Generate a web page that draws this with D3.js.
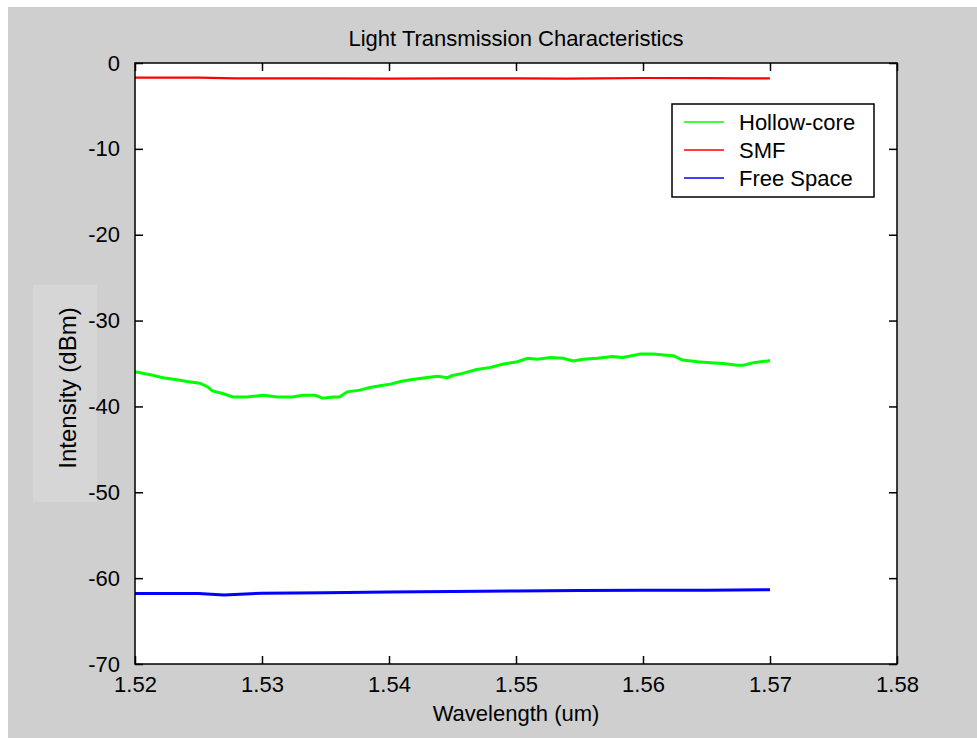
<!DOCTYPE html>
<html>
<head>
<meta charset="utf-8">
<script src="https://cdn.jsdelivr.net/npm/d3@7"></script>
<style>
  html, body { margin: 0; padding: 0; background: #ffffff; }
  svg { display: block; }
  text { font-family: "Liberation Sans", Arial, Helvetica, sans-serif; fill: #000; }
</style>
</head>
<body>
<svg id="chart" width="977" height="738"></svg>
<script>
// Wavelength sweep (um) and measured intensity (dBm) for each fibre path
const hollowWl = [1.5200, 1.5212, 1.5222, 1.5233, 1.5241, 1.5251, 1.5257, 1.5261, 1.5269, 1.5277,
  1.5288, 1.5301, 1.5312, 1.5324, 1.5332, 1.5342, 1.5348, 1.5356, 1.5361, 1.5367,
  1.5377, 1.5385, 1.5393, 1.5401, 1.5409, 1.5417, 1.5427, 1.5438, 1.5446, 1.5450,
  1.5458, 1.5469, 1.5480, 1.5490, 1.5501, 1.5509, 1.5517, 1.5527, 1.5537, 1.5545,
  1.5553, 1.5564, 1.5576, 1.5584, 1.5598, 1.5608, 1.5616, 1.5624, 1.5631, 1.5643,
  1.5653, 1.5663, 1.5674, 1.5679, 1.5687, 1.5698, 1.5700];
const hollowDb = [-35.95, -36.3, -36.65, -36.9, -37.1, -37.3, -37.7, -38.2, -38.5, -38.9,
  -38.9, -38.7, -38.9, -38.9, -38.7, -38.7, -39.05, -38.9, -38.9, -38.3,
  -38.1, -37.8, -37.6, -37.4, -37.1, -36.9, -36.7, -36.5, -36.65, -36.4,
  -36.15, -35.7, -35.45, -35.05, -34.8, -34.4, -34.5, -34.3, -34.4, -34.7,
  -34.5, -34.4, -34.2, -34.3, -33.9, -33.9, -34.0, -34.1, -34.6, -34.8,
  -34.9, -35.0, -35.2, -35.2, -34.9, -34.7, -34.65];

const smfWl = [1.5200, 1.5250, 1.5279, 1.5300, 1.5340, 1.5400, 1.5450, 1.5500, 1.5540, 1.5565,
  1.5600, 1.5650, 1.5680, 1.5700];
const smfDb = [-1.70, -1.70, -1.78, -1.80, -1.80, -1.82, -1.80, -1.80, -1.82, -1.78,
  -1.75, -1.75, -1.80, -1.80];

const freeWl = [1.5200, 1.5250, 1.5270, 1.5300, 1.5350, 1.5400, 1.5450, 1.5500, 1.5550, 1.5600,
  1.5650, 1.5700];
const freeDb = [-61.8, -61.8, -61.95, -61.75, -61.7, -61.6, -61.55, -61.5, -61.45, -61.4,
  -61.4, -61.35];

const xTicks = [1.52, 1.53, 1.54, 1.55, 1.56, 1.57, 1.58];
const yTicks = [0, -10, -20, -30, -40, -50, -60, -70];

const legendNames = ["Hollow-core", "SMF", "Free Space"];
const seriesColors = ["#00ff00", "#ff0000", "#0000ff"];

const svg = d3.select("#chart");
const W = 977, H = 738;
const plot = { left: 135, top: 63, right: 897, bottom: 664 };

// figure background
svg.append("rect").attr("x", 8).attr("y", 7).attr("width", W - 8).attr("height", H - 7)
  .attr("fill", "#cfcfcf");

// lighter panel behind the y label
svg.append("rect").attr("x", 33).attr("y", 285).attr("width", 64).attr("height", 217)
  .attr("fill", "#d6d6d6");

// axes area
svg.append("rect").attr("x", plot.left).attr("y", plot.top)
  .attr("width", plot.right - plot.left).attr("height", plot.bottom - plot.top)
  .attr("fill", "#ffffff");

const x = d3.scaleLinear().domain([1.52, 1.58]).range([plot.left, plot.right]);
const y = d3.scaleLinear().domain([-70, 0]).range([plot.bottom, plot.top]);

const fmtX = d3.format(".2f");
const fmtY = d => String(d); // plain hyphen for negatives
const tickLen = 8;
const fontSize = 22;

// bottom axis: inward ticks, labels below
const bottomAxis = d3.axisBottom(x).tickValues(xTicks).tickSizeInner(-tickLen).tickSizeOuter(0)
  .tickPadding(tickLen + 4).tickFormat(fmtX);
const gb = svg.append("g").attr("transform", `translate(0,${plot.bottom})`).call(bottomAxis);
gb.select(".domain").remove();
gb.selectAll("text").attr("font-size", fontSize).attr("font-family", "Liberation Sans, Arial, sans-serif");

// top axis: inward ticks only
const topAxis = d3.axisTop(x).tickValues(xTicks).tickSizeInner(-tickLen).tickSizeOuter(0).tickFormat("");
const gt = svg.append("g").attr("transform", `translate(0,${plot.top})`).call(topAxis);
gt.select(".domain").remove();

// left axis: inward ticks, labels left
const leftAxis = d3.axisLeft(y).tickValues(yTicks).tickSizeInner(-tickLen).tickSizeOuter(0)
  .tickPadding(tickLen + 7).tickFormat(fmtY);
const gl = svg.append("g").attr("transform", `translate(${plot.left},0)`).call(leftAxis);
gl.select(".domain").remove();
gl.selectAll("text").attr("font-size", fontSize).attr("font-family", "Liberation Sans, Arial, sans-serif");

// right axis: inward ticks only
const rightAxis = d3.axisRight(y).tickValues(yTicks).tickSizeInner(-tickLen).tickSizeOuter(0).tickFormat("");
const gr = svg.append("g").attr("transform", `translate(${plot.right},0)`).call(rightAxis);
gr.select(".domain").remove();

svg.selectAll(".tick line").attr("stroke", "#000").attr("stroke-width", 1.5);

// data traces
const line = d3.line().x(d => x(d[0])).y(d => y(d[1]));
const series = [
  { wl: hollowWl, db: hollowDb, color: seriesColors[0], width: 3 },
  { wl: smfWl, db: smfDb, color: seriesColors[1], width: 2.2 },
  { wl: freeWl, db: freeDb, color: seriesColors[2], width: 3 }
];
series.forEach(s => {
  const pts = s.wl.map((w, i) => [w, s.db[i]]);
  svg.append("path").datum(pts).attr("d", line)
    .attr("fill", "none").attr("stroke", s.color).attr("stroke-width", s.width)
    .attr("stroke-linejoin", "miter");
});

// axes box
svg.append("rect").attr("x", plot.left).attr("y", plot.top)
  .attr("width", plot.right - plot.left).attr("height", plot.bottom - plot.top)
  .attr("fill", "none").attr("stroke", "#000").attr("stroke-width", 1.5);

// title and axis labels
svg.append("text").attr("x", (plot.left + plot.right) / 2).attr("y", 46)
  .attr("text-anchor", "middle").attr("font-size", fontSize)
  .text("Light Transmission Characteristics");
svg.append("text").attr("x", (plot.left + plot.right) / 2).attr("y", 721)
  .attr("text-anchor", "middle").attr("font-size", fontSize)
  .text("Wavelength (um)");
svg.append("text").attr("transform", "translate(76,388) rotate(-90)")
  .attr("text-anchor", "middle").attr("font-size", 24)
  .text("Intensity (dBm)");

// legend
const lg = svg.append("g").attr("transform", "translate(672,104)");
lg.append("rect").attr("width", 202).attr("height", 93)
  .attr("fill", "#fff").attr("stroke", "#000").attr("stroke-width", 1.5);
legendNames.forEach((name, i) => {
  const cy = 18 + i * 28;
  lg.append("line").attr("x1", 12).attr("x2", 52).attr("y1", cy).attr("y2", cy)
    .attr("stroke", seriesColors[i]).attr("stroke-width", 1.5);
  lg.append("text").attr("x", 67).attr("y", cy + 8).attr("font-size", fontSize).text(name);
});
</script>
</body>
</html>
